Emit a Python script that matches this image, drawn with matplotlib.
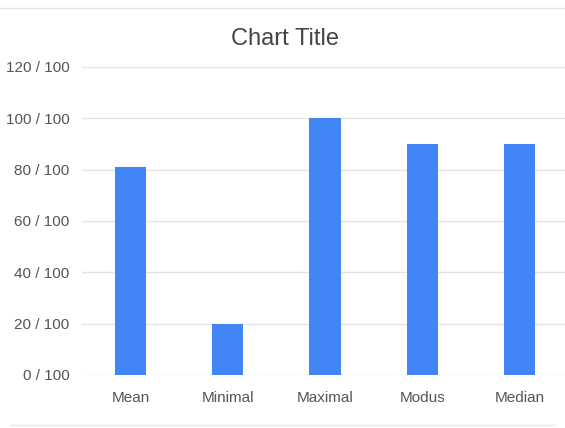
import matplotlib
matplotlib.use("Agg")
import matplotlib.pyplot as plt
from matplotlib.lines import Line2D

categories = ["Mean", "Minimal", "Maximal", "Modus", "Median"]
values = [81, 20, 100, 90, 90]
yticks = [0, 20, 40, 60, 80, 100, 120]
ytick_labels = [f"{v} / 100" for v in yticks]
title = "Chart Title"

plt.rcParams['font.family'] = ['Liberation Sans', 'DejaVu Sans']

fig = plt.figure(figsize=(5.65, 4.28), dpi=100)
ax = fig.add_axes([82/565, (428-375)/428, 1 - 82/565, (375-67)/428])

x = list(range(len(categories)))
ax.bar(x, values, width=0.32, color="#4285F4", zorder=3)

ax.set_ylim(0, 120)
ax.set_xlim(-0.5, 4.47)
ax.set_yticks(yticks)
ax.set_yticklabels(ytick_labels)
ax.set_xticks(x)
ax.set_xticklabels(categories)
ax.tick_params(axis='both', length=0, labelsize=11, labelcolor="#555555")
ax.tick_params(axis='y', pad=9)
ax.tick_params(axis='x', pad=11.5)
ax.grid(axis='y', color="#e3e3e3", linewidth=1, zorder=0)
for s in ax.spines.values():
    s.set_visible(False)

fig.text(285/565, 1 - 39/428, title, ha='center', va='center', fontsize=17, color="#444444")

# faint frame lines of the screenshot
fig.add_artist(Line2D([0, 1], [1 - 8/428, 1 - 8/428], transform=fig.transFigure, color="#e6e6e6", lw=1))
fig.add_artist(Line2D([0.02, 0.98], [1 - 425/428, 1 - 425/428], transform=fig.transFigure, color="#e6e6e6", lw=1))

fig.savefig("out.png", dpi=100)
